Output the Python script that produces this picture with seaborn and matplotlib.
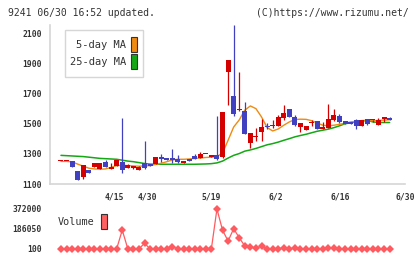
import numpy as np
import pandas as pd
import matplotlib
matplotlib.use("Agg")
import matplotlib.pyplot as plt
from matplotlib.patches import Rectangle
import seaborn as sns

# ---------------------------------------------------------------
# data (daily candles, index 0..59)
# ---------------------------------------------------------------
opens = [1250, 1250, 1250, 1186, 1144, 1193, 1213, 1197, 1246, 1200,
         1221, 1246, 1208, 1205, 1195, 1239, 1231, 1233, 1280, 1273,
         1272, 1266, 1242, 1266, 1286, 1275, 1296, 1279, 1290, 1281,
         1845, 1684, 1590, 1584, 1374, 1412, 1447, 1481, 1485, 1485,
         1538, 1598, 1545, 1481, 1458, 1505, 1515, 1465, 1474, 1527,
         1551, 1518, 1511, 1525, 1487, 1531, 1522, 1494, 1534, 1538]
highs = [1250, 1250, 1252, 1186, 1226, 1193, 1239, 1239, 1260, 1240,
         1259, 1536, 1232, 1222, 1218, 1385, 1231, 1279, 1300, 1273,
         1330, 1292, 1253, 1266, 1299, 1312, 1296, 1292, 1550, 1578,
         1925, 2155, 1845, 1645, 1436, 1474, 1531, 1502, 1525, 1558,
         1624, 1598, 1558, 1508, 1485, 1525, 1520, 1511, 1633, 1600,
         1565, 1518, 1511, 1531, 1525, 1531, 1525, 1535, 1538, 1545]
lows = [1250, 1250, 1215, 1128, 1133, 1175, 1213, 1197, 1213, 1200,
        1221, 1175, 1205, 1200, 1190, 1198, 1217, 1233, 1245, 1257,
        1242, 1242, 1242, 1250, 1266, 1275, 1296, 1279, 1260, 1275,
        1624, 1551, 1585, 1432, 1341, 1387, 1387, 1468, 1470, 1485,
        1527, 1542, 1485, 1447, 1458, 1485, 1465, 1465, 1474, 1520,
        1507, 1500, 1497, 1467, 1487, 1491, 1511, 1494, 1511, 1525]
closes = [1250, 1250, 1215, 1128, 1226, 1175, 1239, 1239, 1213, 1215,
          1259, 1195, 1226, 1220, 1215, 1204, 1217, 1279, 1268, 1257,
          1262, 1245, 1253, 1250, 1266, 1297, 1296, 1292, 1268, 1578,
          1923, 1565, 1597, 1432, 1436, 1415, 1478, 1475, 1490, 1545,
          1571, 1542, 1491, 1502, 1485, 1511, 1465, 1481, 1531, 1558,
          1514, 1500, 1497, 1487, 1525, 1500, 1525, 1525, 1538, 1527]

ma5 = [1250, 1250, 1247, 1232, 1218, 1205, 1200, 1198, 1200, 1210,
       1222, 1224, 1222, 1220, 1218, 1220, 1222, 1230, 1238, 1248,
       1260, 1264, 1264, 1266, 1270, 1272, 1276, 1278, 1282, 1305,
       1390, 1478, 1525, 1590, 1618, 1600, 1545, 1475, 1452, 1465,
       1490, 1512, 1528, 1530, 1529, 1520, 1505, 1490, 1486, 1490,
       1496, 1503, 1512, 1516, 1518, 1520, 1520, 1522, 1524, 1526]
ma25 = [1290, 1288, 1286, 1284, 1282, 1278, 1274, 1270, 1268, 1266,
        1264, 1258, 1252, 1248, 1242, 1236, 1232, 1231, 1231, 1231,
        1231, 1231, 1231, 1231, 1231, 1232, 1233, 1235, 1240, 1252,
        1272, 1290, 1302, 1318, 1326, 1336, 1348, 1360, 1368, 1378,
        1390, 1401, 1413, 1422, 1430, 1440, 1450, 1457, 1464, 1474,
        1486, 1500, 1506, 1512, 1520, 1522, 1512, 1508, 1508, 1508]

volume = [100, 100, 2000, 3000, 2500, 1500, 2000, 1500, 2500, 1500,
          2000, 176000, 1500, 1000, 1500, 53000, 1500, 2000, 3000, 1500,
          21000, 3000, 1500, 1000, 2500, 3000, 100, 1500, 372000, 176000,
          74000, 189000, 105000, 28000, 21000, 7000, 28000, 2000, 1500, 2500,
          9000, 3000, 8000, 2500, 1500, 3000, 1500, 1000, 14000, 5000,
          2000, 1500, 1000, 2000, 1500, 1000, 2000, 1500, 2000, 1500]

xtick_labels = ["", "", "4/15", "4/30", "", "5/19", "", "6/2", "", "6/16", "", "6/30"]
price_ticks = [1100, 1300, 1500, 1700, 1900, 2100]

RED = "#d40000"
BLUE = "#4040c0"
ORANGE = "#f08a10"
GREEN = "#14a814"
VOLC = "#ff5a60"
GRID = "#d6d6d6"
TXT = "#333333"

df = pd.DataFrame({"i": np.arange(len(opens)), "open": opens, "high": highs,
                   "low": lows, "close": closes, "ma5": ma5, "ma25": ma25,
                   "volume": volume})

sns.set_style("white")
plt.rcParams["font.family"] = ["DejaVu Sans Mono", "DejaVu Sans"]

W, H = 420, 259
fig = plt.figure(figsize=(W / 100, H / 100), dpi=100)

def box(x0, y0, x1, y1):
    return [x0 / W, 1 - y1 / H, (x1 - x0) / W, (y1 - y0) / H]

ax = fig.add_axes(box(50, 25, 405, 184))
axv = fig.add_axes(box(50, 205, 405, 253))

# moving averages
sns.lineplot(data=df, x="i", y="ma25", ax=ax, color=GREEN, lw=1.1, zorder=2)
sns.lineplot(data=df, x="i", y="ma5", ax=ax, color=ORANGE, lw=1.0, zorder=2)

# candles
up = df["close"] >= df["open"]
cols = np.where(up, RED, BLUE)
body_lo = np.minimum(df["open"], df["close"])
body_h = np.maximum(np.abs(df["close"] - df["open"]), 8)
ax.vlines(df["i"], df["low"], df["high"], colors=cols, lw=0.9, zorder=3)
ax.bar(df["i"], body_h, bottom=body_lo, width=0.9, color=cols,
       linewidth=0, zorder=4)

xmin, xmax = -1.97, 61.76
ax.set_xlim(xmin, xmax)
ax.set_ylim(1100, 2155)
ax.set_xticks(np.linspace(xmin, xmax, len(xtick_labels)))
ax.set_xticklabels(xtick_labels)
ax.set_yticks(price_ticks)
ax.set_yticklabels([str(t) for t in price_ticks])
ax.set_xlabel("")
ax.set_ylabel("")
for s in ["top", "right"]:
    ax.spines[s].set_visible(False)
for s in ["left", "bottom"]:
    ax.spines[s].set_color(GRID)
    ax.spines[s].set_linewidth(1.2)
ax.tick_params(axis="both", direction="inout", length=8, width=1.2,
               color=GRID, labelsize=5.8, labelcolor=TXT, pad=2)
for lab in ax.get_xticklabels() + ax.get_yticklabels():
    lab.set_fontweight("bold")

# volume panel
sns.lineplot(data=df, x="i", y="volume", ax=axv, color=VOLC, lw=0.9,
             marker="D", markersize=3.6, markeredgewidth=0, clip_on=False)
vmin, vmax = min(volume), max(volume)
span = vmax - vmin
axv.set_xlim(xmin, xmax)
axv.set_ylim(vmin - span * 0.1, vmax + span * 0.1)
axv.set_yticks([vmin, (vmin + vmax) / 2, vmax])
axv.set_yticklabels([f"{vmin}", f"{(vmin + vmax) / 2:.0f}", f"{vmax}"])
axv.set_xticks([])
axv.set_xlabel("")
axv.set_ylabel("")
for s in axv.spines.values():
    s.set_visible(False)
axv.tick_params(axis="y", length=0, labelsize=5.8, labelcolor=TXT, pad=6)
for lab in axv.get_yticklabels():
    lab.set_fontweight("bold")

# header texts
fig.text(8 / W, 1 - 13 / H, "9241 06/30 16:52 updated.", fontsize=7.0,
         color=TXT, va="center", ha="left")
fig.text(409 / W, 1 - 13 / H, "(C)https://www.rizumu.net/", fontsize=7.0,
         color=TXT, va="center", ha="right")

# MA legend box
fig.patches.append(Rectangle((65 / W, 1 - 77 / H), 78 / W, 47 / H,
                             transform=fig.transFigure, facecolor="white",
                             edgecolor=GRID, lw=1.0, zorder=5))
fig.text(126 / W, 1 - 45 / H, "5-day MA", fontsize=7.5, color=TXT,
         ha="right", va="center", zorder=6)
fig.text(126 / W, 1 - 62 / H, "25-day MA", fontsize=7.5, color=TXT,
         ha="right", va="center", zorder=6)
for y0, c in [(37, ORANGE), (54, GREEN)]:
    fig.patches.append(Rectangle((131 / W, 1 - (y0 + 15) / H), 6 / W, 15 / H,
                                 transform=fig.transFigure, facecolor=c,
                                 edgecolor=TXT, lw=0.8, zorder=6))

# volume legend
fig.text(58 / W, 1 - 222 / H, "Volume", fontsize=7.3, color=TXT,
         ha="left", va="center")
fig.patches.append(Rectangle((101 / W, 1 - 229 / H), 6 / W, 15 / H,
                             transform=fig.transFigure, facecolor="#ff6060",
                             edgecolor=TXT, lw=0.8))

fig.savefig("out.png", dpi=100)
